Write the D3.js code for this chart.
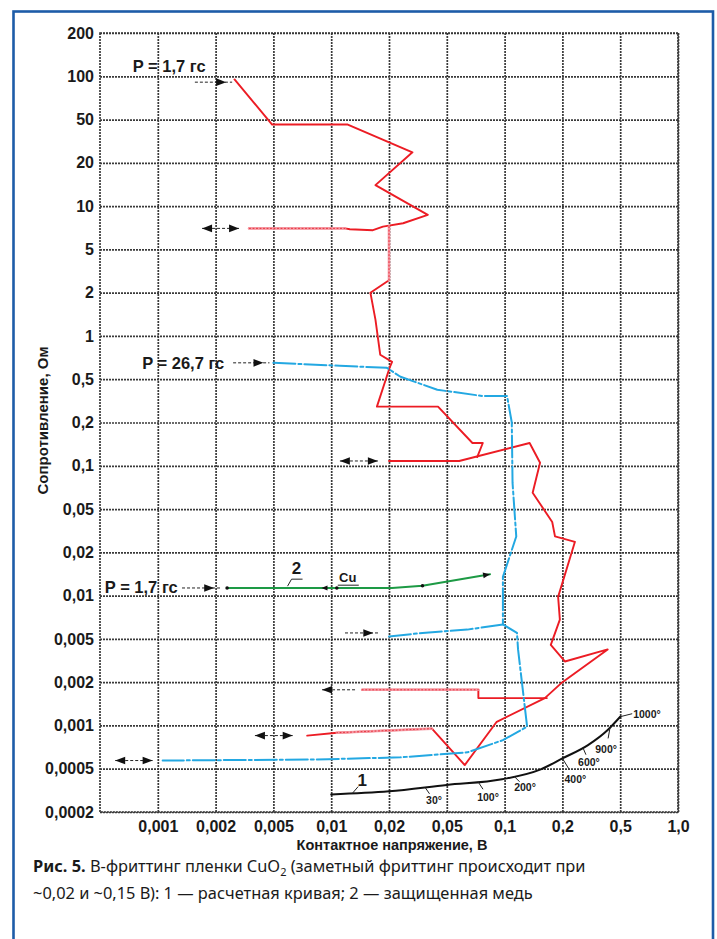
<!DOCTYPE html>
<html>
<head>
<meta charset="utf-8">
<script src="https://cdn.jsdelivr.net/npm/d3@7/dist/d3.min.js"></script>
<style>
  body { margin: 0; background: #fff; }
  svg { display: block; }
</style>
</head>
<body>
<svg id="chart" width="717" height="939"></svg>
<script>
// ---- Axis grids (1-2-5 steps, drawn evenly spaced) ----
const voltGrid = [0.0005, 0.001, 0.002, 0.005, 0.01, 0.02, 0.05, 0.1, 0.2, 0.5, 1.0];
const voltTicks = [0.001, 0.002, 0.005, 0.01, 0.02, 0.05, 0.1, 0.2, 0.5, 1.0];
const voltTickLabels = ["0,001", "0,002", "0,005", "0,01", "0,02", "0,05", "0,1", "0,2", "0,5", "1,0"];
const ohmGrid = [200, 100, 50, 20, 10, 5, 2, 1, 0.5, 0.2, 0.1, 0.05, 0.02, 0.01, 0.005, 0.002, 0.001, 0.0005, 0.0002];
const ohmTickLabels = ["200", "100", "50", "20", "10", "5", "2", "1", "0,5", "0,2", "0,1", "0,05", "0,02", "0,01", "0,005", "0,002", "0,001", "0,0005", "0,0002"];

// ---- Measured curves: [contact voltage, V ; resistance, Ohm] ----
// P = 1.7 gf, first run (from ~100 Ohm)
const redRun1 = [[0.0027, 95], [0.0049, 45], [0.0122, 45], [0.029, 25], [0.017, 14], [0.037, 8.7],
                 [0.025, 7.6], [0.0186, 7.2], [0.0165, 6.8], [0.0125, 6.9], [0.0118, 7.0], [0.0034, 7.0]];
// continuation downwards along ~0.02 V
const redRun1Drop = [[0.02, 7.2], [0.02, 2.6], [0.016, 2.0], [0.017, 1.3], [0.018, 0.74], [0.021, 0.66],
                     [0.0203, 0.61], [0.0173, 0.28], [0.0435, 0.28], [0.068, 0.144], [0.077, 0.144], [0.072, 0.115]];
// second run starting at ~0.1 Ohm
const redRun2 = [[0.02, 0.108], [0.058, 0.108], [0.135, 0.144], [0.153, 0.105], [0.14, 0.065], [0.177, 0.038],
                 [0.183, 0.028], [0.244, 0.025], [0.19, 0.0098], [0.194, 0.0068], [0.174, 0.0044], [0.208, 0.0031],
                 [0.41, 0.004], [0.2, 0.002], [0.162, 0.00155], [0.091, 0.00106], [0.062, 0.00053],
                 [0.0395, 0.00095], [0.0107, 0.00089], [0.0075, 0.00085]];
// return branch at ~0.002 Ohm
const redRun2Return = [[0.0145, 0.00177], [0.073, 0.00177], [0.073, 0.00155], [0.166, 0.00155]];
// P = 26.7 gf
const blueRun = [[0.005, 0.65], [0.0111, 0.62], [0.0195, 0.6], [0.024, 0.52], [0.043, 0.4], [0.077, 0.35],
                 [0.103, 0.35], [0.109, 0.2], [0.11, 0.076], [0.115, 0.028], [0.098, 0.0135], [0.098, 0.0063],
                 [0.116, 0.0055], [0.1175, 0.004], [0.131, 0.00098], [0.098, 0.00079], [0.064, 0.00065],
                 [0.024, 0.0006], [0.0084, 0.00058], [0.00106, 0.00057]];
const blueRun2 = [[0.02, 0.0052], [0.034, 0.0055], [0.064, 0.0058], [0.098, 0.0063]];
// 2 - protected copper, P = 1.7 gf
const greenCu = [[0.0024, 0.0113], [0.021, 0.0113], [0.034, 0.0117], [0.084, 0.0141]];
// 1 - calculated curve
const calcCurve = [[0.01, 0.00029], [0.02, 0.00031], [0.05, 0.000355], [0.097, 0.0004], [0.153, 0.00049],
                   [0.2, 0.00059], [0.3, 0.00073], [0.41, 0.00093], [0.5, 0.00115]];
// contact temperatures marked along the calculated curve
const tempLabels = ["30°", "100°", "200°", "400°", "600°", "900°", "1000°"];
const tempVolts = [0.0354, 0.0727, 0.112, 0.2, 0.277, 0.426, 0.5];

// direction arrows: voltage span, resistance level, kind
const arrows = [
  { v0: 0.00156, v1: 0.0026, r: 91, kind: "right" },
  { v0: 0.0017, v1: 0.0029, r: 7.0, kind: "both" },
  { v0: 0.00264, v1: 0.0047, r: 0.65, kind: "right" },
  { v0: 0.0111, v1: 0.0175, r: 0.108, kind: "both" },
  { v0: 0.001337, v1: 0.00215, r: 0.0113, kind: "right" },
  { v0: 0.0118, v1: 0.0178, r: 0.0055, kind: "right" },
  { v0: 0.00896, v1: 0.0136, r: 0.00177, kind: "left" },
  { v0: 0.00373, v1: 0.0063, r: 0.00085, kind: "both" },
  { v0: 0.0006, v1: 0.00094, r: 0.00057, kind: "both" }
];
// load labels
const loadLabels = [
  { text: "P = 1,7 гс", v: 0.00074, r: 107 },
  { text: "P = 26,7 гс", v: 0.00083, r: 0.59 },
  { text: "P = 1,7 гс", v: 0.00053, r: 0.0105 }
];

// ---- Layout ----
const M = { left: 100, right: 678, top: 33, bottom: 812 };
const svg = d3.select("#chart");
const boldFont = "'Liberation Sans', Arial, sans-serif";

const x = d3.scaleLog()
  .domain(voltGrid)
  .range(voltGrid.map((d, i) => M.left + i * (M.right - M.left) / (voltGrid.length - 1)));
const y = d3.scaleLog()
  .domain(ohmGrid)
  .range(ohmGrid.map((d, i) => M.top + i * (M.bottom - M.top) / (ohmGrid.length - 1)));

// outer blue frame
svg.append("rect")
  .attr("x", 13.5).attr("y", 11.5)
  .attr("width", 699.5).attr("height", 1000)
  .attr("fill", "none").attr("stroke", "#1d5ca8").attr("stroke-width", 2.6);

// ---- Grid and axes ----
const gridStyle = sel => sel.attr("stroke", "#3a3a3a").attr("stroke-width", 1.7).attr("stroke-dasharray", "2,1");

const gx = svg.append("g")
  .attr("transform", `translate(0,${M.bottom})`)
  .call(d3.axisBottom(x).tickValues(voltTicks)
    .tickFormat((d, i) => voltTickLabels[i])
    .tickSize(-(M.bottom - M.top)).tickPadding(9));
gx.select(".domain").remove();
gx.selectAll(".tick line").call(gridStyle);
gx.selectAll(".tick text")
  .attr("font-family", boldFont).attr("font-size", 16).attr("font-weight", "bold").attr("fill", "#1a1a1a");

const gy = svg.append("g")
  .attr("transform", `translate(${M.left},0)`)
  .call(d3.axisLeft(y).tickValues(ohmGrid)
    .tickFormat((d, i) => ohmTickLabels[i])
    .tickSize(-(M.right - M.left)).tickPadding(6));
gy.select(".domain").remove();
gy.selectAll(".tick line").call(gridStyle);
gy.selectAll(".tick text")
  .attr("font-family", boldFont).attr("font-size", 16).attr("font-weight", "bold").attr("fill", "#1a1a1a");

svg.append("rect")
  .attr("x", M.left).attr("y", M.top)
  .attr("width", M.right - M.left).attr("height", M.bottom - M.top)
  .attr("fill", "none").call(gridStyle);

// axis titles
svg.append("text")
  .attr("transform", `translate(48,${(M.top + M.bottom) / 2 - 2}) rotate(-90)`)
  .attr("text-anchor", "middle")
  .attr("font-family", boldFont).attr("font-size", 15).attr("font-weight", "bold").attr("fill", "#1a1a1a")
  .text("Сопротивление, Ом");
svg.append("text")
  .attr("x", (M.left + M.right) / 2 + 3).attr("y", 850)
  .attr("text-anchor", "middle")
  .attr("font-family", boldFont).attr("font-size", 14.5).attr("font-weight", "bold").attr("fill", "#1a1a1a")
  .text("Контактное напряжение, В");

// ---- Curves ----
const line = d3.line().x(d => x(d[0])).y(d => y(d[1]));
const plot = svg.append("g").attr("fill", "none").attr("stroke-linejoin", "round").attr("stroke-linecap", "round");

const red = "#ec1c24";
[redRun1, redRun1Drop, redRun2, redRun2Return].forEach(s => {
  plot.append("path").attr("d", line(s)).attr("stroke", red).attr("stroke-width", 1.9);
});
// retraced legs show lighter, dotted
[redRun1.slice(-2), redRun1Drop.slice(0, 2), redRun2Return.slice(0, 2), redRun2.slice(-3, -1)].forEach(seg => {
  plot.append("path").attr("d", line(seg)).attr("stroke", "#f59aa4").attr("stroke-width", 2.6);
  plot.append("path").attr("d", line(seg)).attr("stroke", "#e8303c").attr("stroke-width", 1)
    .attr("stroke-dasharray", "1,2.5");
});

const blue = "#23a8e2";
[blueRun, blueRun2].forEach(s => {
  plot.append("path").attr("d", line(s)).attr("stroke", blue).attr("stroke-width", 2)
    .attr("stroke-dasharray", "22,3,3,3");
});

plot.append("path").attr("d", line(greenCu)).attr("stroke", "#1d9a45").attr("stroke-width", 2);

const calcLine = d3.line().x(d => x(d[0])).y(d => y(d[1])).curve(d3.curveMonotoneX);
plot.append("path").attr("d", calcLine(calcCurve)).attr("stroke", "#111").attr("stroke-width", 2);

// ---- Markers on the copper curve ----
const ann = svg.append("g");
[greenCu[0], [0.0107, 0.0113], greenCu[2]].forEach(p => {
  ann.append("circle").attr("cx", x(p[0])).attr("cy", y(p[1])).attr("r", 1.8).attr("fill", "#111");
});
{
  const p = greenCu[greenCu.length - 1], q = greenCu[greenCu.length - 2];
  const px = x(p[0]), py = y(p[1]);
  const ang = Math.atan2(py - y(q[1]), px - x(q[0])) * 180 / Math.PI;
  ann.append("path").attr("d", "M0,0 L-7,-3 L-7,3 Z").attr("fill", "#111")
    .attr("transform", `translate(${px},${py}) rotate(${ang})`);
  ann.append("path").attr("d", "M0,0 L6,-2.5 L6,2.5 Z").attr("fill", "#111")
    .attr("transform", `translate(${x(0.0089)},${y(0.0113)})`);
}

// ---- Arrows ----
function head(px, py, dir) {
  ann.append("path")
    .attr("d", `M${px},${py} L${px - dir * 10},${py - 3.8} L${px - dir * 10},${py + 3.8} Z`)
    .attr("fill", "#111");
}
arrows.forEach(a => {
  const x0 = x(a.v0), x1 = x(a.v1), yy = y(a.r);
  ann.append("line").attr("x1", x0).attr("x2", x1).attr("y1", yy).attr("y2", yy)
    .attr("stroke", "#222").attr("stroke-width", 1).attr("stroke-dasharray", "3,2");
  if (a.kind === "right") head(x1 - 6, yy, 1);
  if (a.kind === "left") head(x0, yy, -1);
  if (a.kind === "both") { head(x0, yy, -1); head(x1, yy, 1); }
});

// load labels
loadLabels.forEach(l => {
  ann.append("text").attr("x", x(l.v)).attr("y", y(l.r))
    .attr("font-family", boldFont).attr("font-size", 16.5).attr("font-weight", "bold").attr("fill", "#1a1a1a")
    .text(l.text);
});

// curve numbers
function curveNumber(txt, v, r, lead) {
  const tx = x(v), ty = y(r);
  ann.append("text").attr("x", tx).attr("y", ty).attr("text-anchor", "middle")
    .attr("font-family", boldFont).attr("font-size", 17).attr("font-weight", "bold").attr("fill", "#1a1a1a")
    .text(txt);
  ann.append("path").attr("d", lead(tx, ty)).attr("fill", "none").attr("stroke", "#222").attr("stroke-width", 1);
}
curveNumber("2", 0.0066, 0.0141, (tx, ty) => `M${tx + 6},${ty + 5} L${tx - 5},${ty + 5} L${tx - 9},${ty + 12}`);
curveNumber("1", 0.0145, 0.00035, (tx, ty) => `M${tx - 4},${ty + 1} L${tx - 10},${ty + 8}`);
ann.append("text").attr("x", x(0.0122)).attr("y", y(0.0124)).attr("text-anchor", "middle")
  .attr("font-family", boldFont).attr("font-size", 13).attr("font-weight", "bold").attr("fill", "#1a1a1a")
  .text("Cu");
ann.append("line").attr("x1", x(0.0122) - 10).attr("x2", x(0.0122) + 11)
  .attr("y1", y(0.0124) + 3).attr("y2", y(0.0124) + 3).attr("stroke", "#222").attr("stroke-width", 1);

// temperature marks along curve 1
const calcPx = calcCurve.map(d => [x(d[0]), y(d[1])]);
function curveYAt(px) {
  for (let i = 0; i < calcPx.length - 1; i++) {
    const a = calcPx[i], b = calcPx[i + 1];
    if (px >= a[0] && px <= b[0]) return a[1] + (b[1] - a[1]) * (px - a[0]) / (b[0] - a[0]);
  }
  return calcPx[calcPx.length - 1][1];
}
const tempOffsets = [[9, 13], [10, 15], [11, 11], [13, 21], [6, 14], [-4, 22], [13, -3]];
tempLabels.forEach((t, i) => {
  const ax = x(tempVolts[i]), ay = curveYAt(ax);
  const [dx, dy] = tempOffsets[i];
  const last = i === tempLabels.length - 1;
  ann.append("line")
    .attr("x1", ax).attr("y1", ay)
    .attr("x2", last ? ax + dx - 1 : ax + dx * 0.5).attr("y2", last ? ay + dy : ay + dy * 0.5)
    .attr("stroke", "#222").attr("stroke-width", 1);
  ann.append("text")
    .attr("x", ax + dx).attr("y", ay + dy + 4)
    .attr("text-anchor", last ? "start" : "middle")
    .attr("font-family", boldFont).attr("font-size", 10.5).attr("font-weight", "bold").attr("fill", "#1a1a1a")
    .text(t);
});

// ---- Figure caption ----
const capFont = "'Noto Sans', 'Open Sans', sans-serif";
const cap1 = svg.append("text").attr("x", 33).attr("y", 872)
  .attr("font-family", capFont).attr("font-size", 16.4).attr("fill", "#1a1a1a");
cap1.append("tspan").attr("font-weight", "bold").text("Рис. 5.");
cap1.append("tspan").text(" В-фриттинг пленки CuO");
cap1.append("tspan").attr("font-size", 11).attr("dy", 4).text("2");
cap1.append("tspan").attr("dy", -4).text(" (заметный фриттинг происходит при");
svg.append("text").attr("x", 33).attr("y", 899)
  .attr("font-family", capFont).attr("font-size", 16.4).attr("fill", "#1a1a1a")
  .text("~0,02 и ~0,15 В): 1 — расчетная кривая; 2 — защищенная медь");
</script>
</body>
</html>
